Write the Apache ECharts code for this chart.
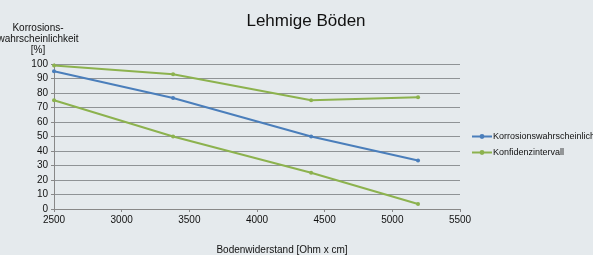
<!DOCTYPE html>
<html>
<head>
<meta charset="utf-8">
<script src="https://cdn.jsdelivr.net/npm/echarts@6/dist/echarts.min.js"></script>
<style>
  html, body { margin: 0; padding: 0; background: #e5eaed; }
  #main { width: 593px; height: 255px; }
</style>
</head>
<body>
<div id="main"></div>
<script>
"use strict";

const widerstand = [2500, 3380, 4400, 5190];
const wahrscheinlichkeit = [95, 76.5, 50, 33.5];
const konfidenzOben = [99, 93, 75, 77];
const konfidenzUnten = [75, 50, 25, 3.5];

const blue = "#4a7ebb";
const green = "#8cb24e";
const font = "Liberation Sans, Arial, sans-serif";

const pairs = (ys) => widerstand.map((x, i) => [x, ys[i]]);

let myChart = echarts.init(document.getElementById("main"));

let option = {
  backgroundColor: "#e5eaed",
  animation: false,
  title: {
    text: "Lehmige Böden",
    left: 301,
    top: 8,
    textAlign: "center",
    textStyle: { fontFamily: font, fontSize: 17, fontWeight: "normal", color: "#111" },
  },
  legend: {
    orient: "vertical",
    left: 471,
    top: 132,
    padding: 0,
    itemGap: 7,
    itemWidth: 20,
    itemHeight: 6,
    data: ["Korrosionswahrscheinlichkeit", "Konfidenzintervall"],
    textStyle: { fontFamily: font, fontSize: 9, color: "#111", padding: [0, 0, 0, -4] },
  },
  grid: {
    left: 54,
    right: 133,
    top: 64,
    bottom: 46,
    outerBoundsMode: "none",
  },
  xAxis: {
    type: "value",
    min: 2500,
    max: 5500,
    interval: 500,
    name: "Bodenwiderstand [Ohm x cm]",
    nameLocation: "middle",
    nameGap: 36,
    nameTextStyle: { fontFamily: font, fontSize: 10, color: "#111", padding: [0, 0, 0, 50] },
    axisLine: { lineStyle: { color: "#888" } },
    axisTick: { show: true, length: 3, lineStyle: { color: "#888" } },
    axisLabel: { fontFamily: font, fontSize: 10, color: "#111", margin: 6, formatter: (v) => String(v) },
    splitLine: { show: false },
  },
  yAxis: {
    type: "value",
    min: 0,
    max: 100,
    interval: 10,
    name: "Korrosions-\nwahrscheinlichkeit\n[%]",
    nameLocation: "end",
    nameGap: 8,
    nameTextStyle: { fontFamily: font, fontSize: 10, color: "#111", align: "center", padding: [0, 0, 0, -32], lineHeight: 11 },
    axisLine: { show: true, lineStyle: { color: "#888" } },
    axisTick: { show: true, length: 3, lineStyle: { color: "#888" } },
    axisLabel: { fontFamily: font, fontSize: 10, color: "#111", margin: 6 },
    splitLine: { lineStyle: { color: "#8f9396", width: 1 } },
  },
  series: [
    {
      name: "Korrosionswahrscheinlichkeit",
      type: "line",
      data: pairs(wahrscheinlichkeit),
      symbol: "circle",
      symbolSize: 4,
      itemStyle: { color: blue },
      lineStyle: { width: 2, color: blue },
    },
    {
      name: "Konfidenzintervall",
      type: "line",
      data: pairs(konfidenzOben),
      symbol: "circle",
      symbolSize: 4,
      itemStyle: { color: green },
      lineStyle: { width: 2, color: green },
    },
    {
      name: "Konfidenzintervall",
      type: "line",
      data: pairs(konfidenzUnten),
      symbol: "circle",
      symbolSize: 4,
      itemStyle: { color: green },
      lineStyle: { width: 2, color: green },
    },
  ],
};

option && myChart.setOption(option);
</script>
</body>
</html>
